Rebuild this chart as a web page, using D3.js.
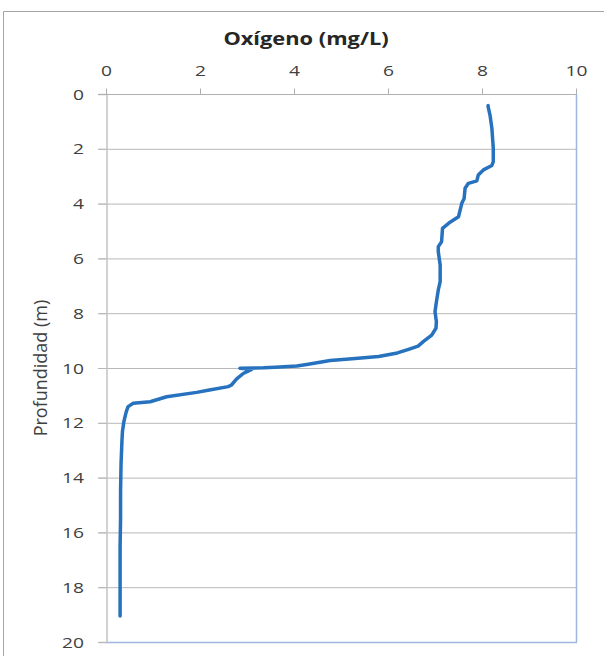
<!DOCTYPE html>
<html><head><meta charset="utf-8">
<script src="https://cdn.jsdelivr.net/npm/d3@7"></script>
<style>body{margin:0;background:#fff}svg{display:block}</style>
</head><body>
<svg id="c" width="604" height="656"></svg>
<script>
const oxygen = [8.13,8.13,8.17,8.21,8.24,8.24,8.21,8.03,7.92,7.89,7.71,7.64,7.62,7.57,7.5,7.32,7.16,7.14,7.07,7.07,7.11,7.11,7.07,7.03,7.0,7.03,7.02,6.93,6.75,6.64,6.47,6.2,5.8,5.3,4.77,4.27,4.06,3.6,3.35,2.85,3.1,2.92,2.78,2.67,2.6,2.2,1.93,1.29,0.94,0.58,0.47,0.43,0.38,0.35,0.34,0.32,0.31,0.31,0.30,0.30,0.30];
const depth  = [0.42,0.46,0.77,1.25,1.98,2.47,2.61,2.77,2.96,3.17,3.26,3.44,3.81,3.99,4.48,4.68,4.9,5.39,5.57,5.76,6.24,6.85,7.15,7.58,7.95,8.31,8.55,8.8,9.04,9.2,9.3,9.45,9.58,9.65,9.73,9.87,9.93,9.97,9.99,10.01,10.05,10.2,10.4,10.62,10.68,10.8,10.89,11.05,11.23,11.29,11.41,11.6,11.96,12.32,12.63,13.5,14.5,15.5,16.5,17.8,19.05];
const xTicks = [0,2,4,6,8,10];
const yTicks = [0,2,4,6,8,10,12,14,16,18,20];
const title = "Oxígeno (mg/L)";
const yTitle = "Profundidad (m)";

const svg = d3.select("#c");
const font = "'Open Sans','Liberation Sans',sans-serif";
svg.append("path").attr("d","M3.5,656 V11.5 H604").attr("fill","none").attr("stroke","#a6a6a6").attr("stroke-width",1);

const L=106, R=576, T=94, B=642;
const x = d3.scaleLinear().domain([0,10]).range([L,R]);
const y = d3.scaleLinear().domain([0,20]).range([T,B]);

function stretchedText(px, py, txt, anchor, size, sx, weight, fill){
  const g = svg.append("g").attr("transform",`translate(${px},${py}) scale(${sx},1)`);
  g.append("text").attr("text-anchor",anchor).attr("font-family",font)
    .attr("font-size",size).attr("font-weight",weight||"normal").attr("fill",fill||"#404040").text(txt);
}

// gridlines
svg.append("g").selectAll("line").data(yTicks.filter(d=>d>0&&d<20)).join("line")
  .attr("x1",L-8).attr("x2",R).attr("y1",d=>y(d)+0.5).attr("y2",d=>y(d)+0.5)
  .attr("stroke","#b8b8b8").attr("stroke-width",1);

svg.append("line").attr("x1",R+0.5).attr("x2",R+0.5).attr("y1",T).attr("y2",B).attr("stroke","#9db8dc").attr("stroke-width",1.5);
svg.append("line").attr("x1",L).attr("x2",R+1).attr("y1",B+0.5).attr("y2",B+0.5).attr("stroke","#9db8dc").attr("stroke-width",1.5);
svg.append("line").attr("x1",L-8).attr("x2",L).attr("y1",B+0.5).attr("y2",B+0.5).attr("stroke","#b8b8b8");

// left axis
const yAxis = d3.axisLeft(y).tickValues(yTicks).tickSize(8).tickFormat("");
const gy = svg.append("g").attr("transform",`translate(${L+0.5},0)`).call(yAxis);
gy.select(".domain").attr("stroke","#c4c4c4").attr("stroke-width",1.5);
gy.selectAll(".tick line").attr("stroke","#b8b8b8");
yTicks.forEach(t=>stretchedText(84, y(t)+5.5, String(t), "end", 15, 1.28));

// top axis
const xAxis = d3.axisTop(x).tickValues(xTicks).tickSize(6).tickFormat("");
const gx = svg.append("g").attr("transform",`translate(0,${T+0.5})`).call(xAxis);
gx.select(".domain").attr("stroke","#b0b0b0").attr("d",`M${L-8},0H${R}`);
gx.selectAll(".tick line").attr("stroke","#b0b0b0");
xTicks.forEach(t=>stretchedText(x(t)+0.5, 75.5, String(t), "middle", 15, 1.28));

// titles
stretchedText(306, 44.5, title, "middle", 18.5, 1.18, "bold", "#262626");
svg.append("text").attr("transform",`translate(47,368) rotate(-90)`).attr("text-anchor","middle")
  .attr("font-family",font).attr("font-size",18).attr("fill","#404040").text(yTitle);

// line
const pts = oxygen.map((v,i)=>[v,depth[i]]);
svg.append("path").datum(pts)
  .attr("d",d3.line().x(d=>x(d[0])).y(d=>y(d[1])).curve(d3.curveLinear))
  .attr("fill","none").attr("stroke","#2672be").attr("stroke-width",3.5)
  .attr("stroke-linejoin","round").attr("stroke-linecap","round");
</script>
</body></html>
